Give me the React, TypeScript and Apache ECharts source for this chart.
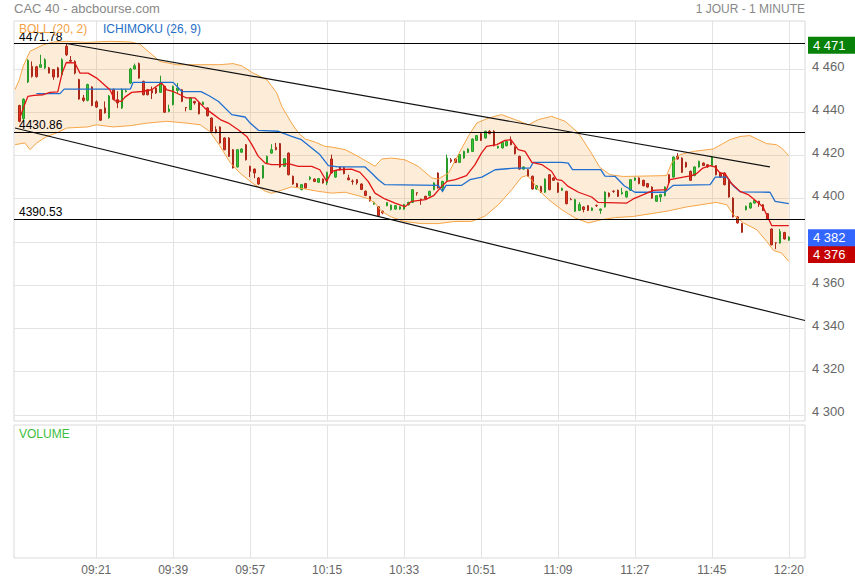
import React, { useEffect, useRef } from "react";
import * as echarts from "echarts";

// ---- axis ticks ----
const tickIdx = [18, 36, 54, 72, 90, 108, 126, 144, 162, 180];
const tickLabels = ["09:21", "09:39", "09:57", "10:15", "10:33", "10:51", "11:09", "11:27", "11:45", "12:20"];
const yTicks = [4300, 4320, 4340, 4360, 4380, 4400, 4420, 4440, 4460];

// ---- 1-minute candles: [open, close, low, high] ----
const candles: number[][] = [
  [4443.1, 4435.8, 4435.3, 4443.5], [4437, 4446, 4436, 4446.5], [4454, 4464, 4453.5, 4464.5], [4461.2, 4456.6, 4456, 4463.5],
  [4461, 4456.5, 4456, 4461.5], [4460.8, 4462, 4460.5, 4466.6], [4460.5, 4464.3, 4460, 4465], [4460.5, 4458.1, 4458, 4461],
  [4459.7, 4456.3, 4455, 4460], [4460.5, 4456.3, 4456, 4461], [4457.4, 4464.3, 4457, 4465], [4470.5, 4466.6, 4466, 4471.78],
  [4464, 4463.6, 4463, 4466], [4463.5, 4458.1, 4457.5, 4464], [4455.1, 4446.1, 4445.8, 4455.5], [4446.6, 4445.5, 4444.8, 4448],
  [4445.5, 4452.8, 4445, 4453.2], [4451.7, 4443.1, 4442.8, 4452], [4444.8, 4442.4, 4442, 4445.5], [4441.2, 4436.3, 4436, 4441.5],
  [4442, 4439.7, 4439.4, 4445], [4437.4, 4447.5, 4437, 4448], [4450.4, 4446, 4445.5, 4451], [4445.8, 4444.3, 4441.9, 4449.7],
  [4442, 4450.4, 4441.5, 4451], [4449.5, 4449.9, 4449.2, 4450.8], [4453.5, 4460, 4453, 4460.5], [4460, 4461.5, 4459.8, 4462.5],
  [4462.5, 4455.8, 4455.5, 4463], [4454.3, 4448.1, 4447.8, 4454.6], [4450.4, 4448.1, 4447.8, 4450.8], [4450, 4448.9, 4446.1, 4451.9],
  [4451.2, 4448.9, 4448.5, 4451.6], [4449.2, 4453.5, 4449, 4456.9], [4452, 4440, 4439.7, 4452.3], [4440.4, 4441.5, 4440, 4443.5],
  [4443.5, 4452, 4443.2, 4452.3], [4450.1, 4451.2, 4448.9, 4453.5], [4450.4, 4445, 4444.7, 4450.7], [4442.2, 4442, 4440.4, 4442.3],
  [4441.2, 4446.6, 4441, 4447], [4445, 4444.3, 4443.5, 4445.3], [4444.3, 4439.3, 4439, 4444.6], [4443.6, 4444.6, 4443.3, 4445],
  [4442, 4438.4, 4438, 4442.3], [4437.3, 4431.2, 4431, 4437.6], [4432, 4430.7, 4430.2, 4433.5], [4433.2, 4425.8, 4425.5, 4433.5],
  [4428.1, 4422.7, 4422.4, 4428.4], [4428.1, 4419.6, 4419.3, 4428.4], [4422.7, 4414.2, 4414, 4423], [4414.7, 4422.7, 4414.4, 4423],
  [4421.5, 4423, 4421.2, 4423.3], [4425, 4418, 4417.7, 4425.3], [4415, 4412.7, 4410, 4415.3], [4413.7, 4411.9, 4409.5, 4414],
  [4409.6, 4406.8, 4406.5, 4410], [4409.6, 4415.3, 4409.3, 4415.6], [4416.2, 4419.6, 4416, 4420], [4421.1, 4422.7, 4420.8, 4425.2],
  [4423.8, 4422.7, 4422.4, 4425.8], [4425.5, 4414.7, 4414.4, 4425.8], [4415, 4418.5, 4414.7, 4418.8], [4421.1, 4411.1, 4410.8, 4421.4],
  [4410.4, 4406.8, 4406.5, 4410.7], [4407, 4405.4, 4405.1, 4407.3], [4404.2, 4406.5, 4403.9, 4406.8], [4407, 4405, 4404.7, 4407.3],
  [4409.1, 4409.9, 4408.5, 4410.4], [4409.1, 4408, 4407.7, 4409.4], [4407.6, 4409.3, 4407.3, 4409.6], [4409.1, 4407.3, 4407, 4409.4],
  [4407.3, 4412.2, 4406.3, 4412.5], [4418.4, 4411.9, 4411.6, 4420.4], [4410, 4413, 4409.7, 4413.3], [4414.7, 4413.4, 4413.1, 4415],
  [4414.5, 4411.6, 4411.3, 4414.8], [4409.6, 4408.8, 4408.5, 4411.1], [4408.2, 4408, 4406.5, 4408.9], [4408.8, 4407.3, 4406.5, 4409.1],
  [4406.8, 4404.3, 4404, 4407.1], [4403.5, 4401.5, 4401.2, 4403.8], [4401, 4399, 4398.7, 4401.3], [4397.5, 4398.3, 4397.2, 4398.6],
  [4396.3, 4392.2, 4391.9, 4396.6], [4394.2, 4393.4, 4392.8, 4394.5], [4396.8, 4398.2, 4396.5, 4398.5], [4395, 4397, 4394.5, 4397.3],
  [4395.2, 4396.8, 4394.9, 4397.1], [4395.2, 4396.3, 4394.9, 4396.6], [4395.2, 4397.3, 4394.9, 4397.6], [4397.2, 4398.3, 4396.9, 4398.6],
  [4398.3, 4404.2, 4398, 4404.5], [4402.8, 4402.6, 4401.4, 4402.9], [4399.8, 4399.6, 4397.2, 4400], [4401.1, 4400, 4399.7, 4401.4],
  [4401.4, 4403.4, 4401.1, 4403.7], [4404.2, 4407.3, 4403.9, 4407.6], [4411.9, 4405, 4404.7, 4412.2], [4405, 4408, 4403, 4408.3],
  [4408.5, 4418.8, 4408.2, 4420.4], [4418, 4417.3, 4416.5, 4418.8], [4418.4, 4416.8, 4416.5, 4418.7], [4416.8, 4420.4, 4416.5, 4420.7],
  [4418.8, 4421.9, 4418.5, 4422.2], [4421.4, 4423, 4421.1, 4423.3], [4421.9, 4427.6, 4421.6, 4427.9], [4427, 4429.2, 4426.7, 4429.5],
  [4430.1, 4427, 4426.7, 4430.4], [4428.1, 4431.2, 4427.8, 4431.5], [4431.2, 4430.1, 4429.8, 4431.7], [4431.2, 4424.5, 4424.2, 4431.7],
  [4423.5, 4424.2, 4423.2, 4424.5], [4423.5, 4426, 4423.2, 4426.3], [4424.5, 4426.5, 4424.2, 4426.8], [4426.5, 4425, 4424.7, 4428.8],
  [4423.9, 4420.8, 4420.5, 4424.2], [4419.6, 4413.7, 4413.4, 4419.9], [4413.7, 4414.7, 4413.4, 4415], [4413.4, 4410.4, 4410.1, 4413.7],
  [4410.4, 4404.5, 4404.2, 4410.7], [4404.5, 4406, 4404.2, 4406.3], [4405.7, 4403, 4402.7, 4406], [4403, 4409.1, 4402.7, 4409.4],
  [4411.1, 4404.2, 4403.9, 4411.4], [4409.6, 4408.5, 4408.2, 4410.1], [4407.3, 4403, 4402.7, 4407.6], [4403.9, 4404.8, 4403.6, 4405.1],
  [4403.4, 4397.7, 4397.4, 4403.7], [4399.7, 4399.6, 4399.3, 4400.4], [4394.2, 4399.6, 4393.9, 4399.9], [4394.6, 4397.3, 4394.3, 4398.4],
  [4396.2, 4395, 4393.7, 4396.5], [4396.8, 4394.6, 4394.3, 4397.1], [4394.6, 4395.7, 4394.3, 4396], [4396.9, 4396.8, 4396.2, 4397.3],
  [4394.6, 4395.2, 4393, 4395.5], [4396.2, 4403.1, 4395.9, 4403.4], [4402.6, 4401.1, 4400.6, 4402.9], [4403.5, 4403.4, 4402.7, 4403.9],
  [4403.9, 4401.1, 4400.8, 4404.2], [4402.3, 4402.9, 4401.9, 4405], [4400.8, 4403.4, 4400.5, 4403.7], [4403.9, 4408.8, 4403.6, 4409.1],
  [4408.5, 4409.6, 4408.2, 4409.9], [4409.6, 4407, 4406.7, 4409.9], [4408.5, 4406, 4405.7, 4408.8], [4407, 4405.4, 4405.1, 4407.3],
  [4405.4, 4400.3, 4400, 4405.7], [4398.8, 4401.4, 4398.5, 4401.7], [4400.8, 4401.9, 4398.5, 4402.2], [4401.4, 4405.4, 4401.1, 4405.7],
  [4411.1, 4407.6, 4407.3, 4411.4], [4410, 4419.3, 4409.7, 4419.6], [4419.6, 4418.4, 4418.1, 4421.1], [4418.8, 4412.2, 4411.9, 4419.1],
  [4416.8, 4414.7, 4414.4, 4417.1], [4412.7, 4408.5, 4408.2, 4413], [4410.7, 4414.7, 4410.4, 4415], [4414.7, 4417.3, 4414.4, 4417.6],
  [4416.5, 4415.4, 4415.1, 4416.8], [4415.7, 4414.7, 4414.4, 4416], [4415.3, 4419.3, 4415, 4419.6], [4415.3, 4411.1, 4410.8, 4415.6],
  [4411.9, 4410, 4409.7, 4412.2], [4411.9, 4406.5, 4406.2, 4412.2], [4408.8, 4400.8, 4400.5, 4409.1], [4400.3, 4391.6, 4391.3, 4400.6],
  [4391.6, 4388.8, 4388.5, 4391.9], [4388.5, 4384.5, 4384.2, 4388.8], [4394.9, 4396.5, 4394.6, 4396.8], [4395.7, 4398, 4395.4, 4398.3],
  [4398, 4399.2, 4397.7, 4399.5], [4398.8, 4397.7, 4396.2, 4399.1], [4397.2, 4394.6, 4394.3, 4397.5], [4393.1, 4390.6, 4390.3, 4393.4],
  [4386, 4378.7, 4378.4, 4386.3], [4379.6, 4379.5, 4376.7, 4379.9], [4379.5, 4384.9, 4379.2, 4386], [4384.4, 4381.4, 4381.1, 4384.7],
  [4380.8, 4382.3, 4380.5, 4382.6],
];

// ---- Ichimoku lines: [candle index, value] ----
const tenkan: number[][] = [
  [0, 4436.6], [1.1, 4442.8], [2, 4447.3], [3.4, 4447.8], [5.6, 4448.1], [7.2, 4449.2], [9, 4449.4], [10, 4458], [11, 4463],
  [13, 4462.8], [14.2, 4458.1], [16.1, 4458.1], [18.1, 4455.8], [21.2, 4450.4], [22.4, 4445.3], [23.9, 4445], [24.7, 4447],
  [26.3, 4449.2], [28.6, 4449.6], [31, 4450.4], [32.1, 4452], [33.3, 4453.5], [34.5, 4450.4], [36, 4449.6], [37.6, 4448.1],
  [39.1, 4446.6], [41.1, 4446.6], [43.4, 4441.9], [45, 4439.6], [47, 4436.6], [48.9, 4435], [51.2, 4431.9], [53.2, 4428.8],
  [54.4, 4425], [55.9, 4419.6], [57.5, 4416.5], [59, 4415.8], [61.4, 4415.8], [62.9, 4416.2], [65.3, 4415], [68.4, 4415],
  [70.3, 4413.4], [71.9, 4408], [73.1, 4412.7], [74.6, 4413.4], [77.7, 4413.7], [79.7, 4412.2], [81.6, 4408], [83.2, 4402.6],
  [85.5, 4399.9], [87.9, 4398], [90.2, 4396.3], [91.8, 4398.8], [95, 4399.6], [96.9, 4401.4], [98.8, 4405.7], [100, 4408],
  [102, 4408.8], [104.6, 4410.7], [106.6, 4415.8], [108.1, 4421.1], [109.3, 4424.2], [111.7, 4425], [113.6, 4427], [115, 4427.3],
  [116.7, 4422.7], [118.3, 4421.9], [119.9, 4416.8], [122.2, 4415.8], [124.5, 4412.7], [125.7, 4408.8], [126.9, 4408.5],
  [128.4, 4405.7], [130.8, 4403], [133.9, 4400.8], [135.4, 4398.3], [142.1, 4398], [143.6, 4399.9], [146, 4401.9], [148.3, 4403.9],
  [151.4, 4404.2], [152.2, 4408.8], [155.3, 4410], [157.3, 4410.7], [158.4, 4411.6], [159.9, 4414.2], [161.6, 4415.3],
  [162.7, 4414.7], [163.9, 4411.9], [165.1, 4411.6], [166.6, 4407], [168.6, 4403.4], [170.5, 4401.9], [172.4, 4398.8],
  [174, 4396.2], [174.8, 4392.6], [176, 4387.6], [180, 4387.6],
];
const kijun: number[][] = [
  [4, 4448.6], [9.5, 4448.6], [10.5, 4450.7], [26, 4450.7], [26.6, 4453.8], [36, 4453.8], [38, 4449.6], [42.5, 4449.5],
  [44.5, 4447.5], [46.6, 4445], [49.7, 4438.9], [52.8, 4437.8], [54, 4435], [56, 4431.6], [60.6, 4431.2], [63.7, 4428.8],
  [66, 4427.3], [68.4, 4423.5], [70.3, 4420.4], [72.3, 4415.3], [74.6, 4414.7], [80.9, 4414.7], [82.4, 4411.9], [84, 4408.8],
  [85.5, 4406.5], [98, 4406.2], [99, 4403.4], [99.8, 4406.2], [103.5, 4406.2], [105.4, 4408.8], [108.2, 4410], [111.3, 4413.4],
  [116, 4414.2], [119.5, 4414.2], [120.2, 4416.8], [126.9, 4416.8], [128.4, 4416.5], [129.4, 4413.5], [136, 4413.5],
  [137, 4410.5], [139.4, 4410.3], [141.5, 4406], [144, 4403], [151, 4403], [153, 4406.2], [161.6, 4406.5], [162.8, 4410],
  [165.5, 4410], [167, 4406], [168.6, 4403.2], [175.6, 4403], [176.8, 4398.8], [180, 4397.7],
];

// ---- Bollinger (20, 2) envelope: [candle index, value] ----
const bollUpper: number[][] = [
  [-1, 4450.5], [0, 4455], [0.9, 4461.2], [2.5, 4468.2], [5.6, 4471.2], [8, 4472.5], [11.1, 4472.8], [15.8, 4472.3],
  [21.2, 4472.8], [26, 4472.5], [28.2, 4471.5], [30.6, 4467.4], [32.9, 4463.5], [36.8, 4462], [42.3, 4462], [46.9, 4462],
  [50, 4462.5], [52, 4461.5], [54.7, 4458.1], [57.9, 4455], [60.2, 4449], [61.4, 4442.7], [63.7, 4435], [65.3, 4430.4],
  [66.9, 4427.6], [69.2, 4426.2], [71.5, 4424.2], [73.1, 4423.9], [76.2, 4422.7], [78.5, 4420.4], [80.9, 4417.7], [83.2, 4415],
  [84.8, 4418.4], [87.1, 4418.8], [90.2, 4418], [93.3, 4415], [96.5, 4409.6], [98, 4409.1], [100.4, 4411.9], [102.7, 4420.4],
  [105, 4428.8], [107, 4435], [109.7, 4437.3], [112.8, 4438.9], [116, 4436.6], [119.1, 4434.2], [121.4, 4436.6], [124.5, 4438.1],
  [127.7, 4435.8], [130.8, 4430.4], [133.7, 4421.5], [135.8, 4414.5], [138.2, 4411.1], [141.3, 4410.3], [151.4, 4410.7],
  [152.6, 4416.5], [154.5, 4420.4], [157.7, 4421.9], [162.3, 4423], [166.2, 4427.3], [168.6, 4428.8], [170.9, 4429.2],
  [174.8, 4425.5], [177.1, 4425], [178.3, 4423.5], [180, 4419.9],
];
const bollLower: number[][] = [
  [-1, 4425], [1.3, 4425.8], [2.5, 4422.7], [4.1, 4425.8], [6.4, 4428.8], [8.7, 4430.4], [11.1, 4432.7], [16, 4433.2],
  [18, 4434.2], [22, 4433.2], [26, 4433.8], [30, 4435], [34.5, 4435.8], [39, 4435], [42.3, 4434.2], [44.6, 4431], [46.9, 4424.5],
  [49.3, 4416.8], [51.6, 4411.9], [54.7, 4407], [57.5, 4403.5], [59, 4402.5], [61.4, 4404], [63.7, 4405.5], [66.9, 4404.5],
  [70, 4403.4], [73.1, 4402.6], [76.2, 4403], [79.3, 4401.4], [81.6, 4400], [83.2, 4398], [84.8, 4394], [87.1, 4391.5],
  [90, 4389.5], [94, 4388.5], [98, 4388.5], [101.9, 4389.5], [105.8, 4389.5], [108.9, 4391.9], [112.1, 4397.3], [115.2, 4404.2],
  [117.5, 4410], [118.7, 4410.7], [119.8, 4408.8], [121.4, 4404.2], [123.8, 4399.6], [126.9, 4394.9], [130, 4391.1],
  [133.1, 4388.8], [136.2, 4390.3], [139.5, 4391.3], [143.6, 4391.8], [151.4, 4394.2], [156.1, 4396.2], [163, 4398.3],
  [165.5, 4397.2], [167, 4392.6], [169.4, 4388.8], [172.5, 4385.7], [174.8, 4380.3], [176.4, 4376.1], [178.3, 4374.9], [180, 4371],
];

// ---- drawn trend lines and horizontal levels ----
const trendHigh: number[][] = [[11, 4471.78], [175.6, 4414.7]];
const trendLow: number[][] = [[-1, 4432.7], [183.8, 4343.7]];
const levels = [4471.78, 4430.86, 4390.53];
const tagHigh = 4471;
const tagLast = 4382;
const tagRed = 4376;

const X_MIN = -1.24;
const X_MAX = 183.79;
const Y_MIN = 4297.2;
const Y_MAX = 4482.2;

const FONT = '"Liberation Sans", Arial, sans-serif';
const fmtThousands = (v: number) => {
  const s = String(Math.round(v));
  return s.slice(0, s.length - 3) + " " + s.slice(-3);
};

export default function App() {
  const ref = useRef<HTMLDivElement>(null);
  useEffect(() => {
    if (!ref.current) return;
    const chart = echarts.init(ref.current, undefined, { renderer: "svg" });
    const candleData = candles.map((c, i) => [i, c[0], c[1], c[2], c[3]]);
    const gridLine = { show: true, lineStyle: { color: "#e3e3e3", width: 1 } };
    const hidden = { color: "rgba(0,0,0,0)", width: 0 };
    const tag = (v: number, bg: string, offsetY: number) => ({
      yAxis: v,
      lineStyle: hidden,
      label: {
        show: true, position: "end", distance: 3, formatter: fmtThousands(v), color: "#fff", fontSize: 13,
        backgroundColor: bg, padding: [2, 6, 2, 5], fontFamily: FONT, width: 36, align: "left",
        offset: [0, offsetY],
      },
    });

    const option: any = {
      animation: false,
      backgroundColor: "#fff",
      textStyle: { fontFamily: FONT },
      title: [
        { text: "CAC 40 - abcbourse.com", left: 14, top: 2, padding: 0, textStyle: { color: "#888", fontSize: 13, fontWeight: "normal", fontFamily: FONT } },
        { text: "1 JOUR - 1 MINUTE", right: 50, top: 3, padding: 0, textStyle: { color: "#888", fontSize: 12, fontWeight: "normal", fontFamily: FONT } },
        { text: "BOLL (20, 2)", left: 19, top: 23, padding: 0, textStyle: { color: "#f5a142", fontSize: 12, fontWeight: "normal", fontFamily: FONT } },
        { text: "ICHIMOKU (26, 9)", left: 103, top: 23, padding: 0, textStyle: { color: "#1f6fc8", fontSize: 12, fontWeight: "normal", fontFamily: FONT } },
        { text: "VOLUME", left: 19, top: 428, padding: 0, textStyle: { color: "#3cbd3c", fontSize: 12, fontWeight: "normal", fontFamily: FONT } },
      ],
      grid: [
        { left: 14, right: 50, top: 21, height: 400, show: true, borderColor: "#d9d9d9", borderWidth: 1, backgroundColor: "transparent" },
        { left: 14, right: 50, top: 425, height: 133, show: true, borderColor: "#d9d9d9", borderWidth: 1, backgroundColor: "transparent" },
      ],
      xAxis: [
        {
          type: "value", gridIndex: 0, min: X_MIN, max: X_MAX,
          axisLine: { show: false }, axisTick: { show: false, customValues: tickIdx },
          axisLabel: { show: false, customValues: tickIdx }, splitLine: gridLine,
        },
        {
          type: "value", gridIndex: 1, min: X_MIN, max: X_MAX,
          axisLine: { show: false }, axisTick: { show: false, customValues: tickIdx },
          axisLabel: {
            show: true, customValues: tickIdx, color: "#666", fontSize: 12, margin: 6, fontFamily: FONT,
            formatter: (v: number) => { const k = tickIdx.indexOf(Math.round(v)); return k >= 0 ? tickLabels[k] : ""; },
          },
          splitLine: gridLine,
        },
      ],
      yAxis: [
        {
          type: "value", gridIndex: 0, position: "right", min: Y_MIN, max: Y_MAX,
          axisLine: { show: false }, axisTick: { show: false, customValues: yTicks },
          axisLabel: {
            customValues: yTicks, color: "#666", fontSize: 13, margin: 7, fontFamily: FONT, formatter: fmtThousands,
            verticalAlign: "bottom", lineHeight: 6,
          },
          splitLine: gridLine,
        },
        {
          type: "value", gridIndex: 1, position: "right", min: 0, max: 1,
          axisLine: { show: false }, axisTick: { show: false }, axisLabel: { show: false }, splitLine: { show: false },
        },
      ],
      series: [
        {
          name: "bollFill", type: "custom", xAxisIndex: 0, yAxisIndex: 0, silent: true, clip: true,
          data: [[0, bollUpper[0][1]]],
          renderItem: (_params: any, api: any) => {
            const pts = bollUpper.map((p) => api.coord(p)).concat(bollLower.slice().reverse().map((p) => api.coord(p)));
            return { type: "polygon", shape: { points: pts }, style: { fill: "rgba(245,160,60,0.2)", stroke: "none" } };
          },
        },
        { name: "bollUpper", type: "line", xAxisIndex: 0, yAxisIndex: 0, data: bollUpper, showSymbol: false, silent: true, lineStyle: { color: "#f6a547", width: 1 } },
        { name: "bollLower", type: "line", xAxisIndex: 0, yAxisIndex: 0, data: bollLower, showSymbol: false, silent: true, lineStyle: { color: "#f6a547", width: 1 } },
        {
          name: "CAC 40", type: "candlestick", xAxisIndex: 0, yAxisIndex: 0, data: candleData,
          encode: { x: 0, y: [1, 2, 3, 4] }, barWidth: 2,
          itemStyle: { color: "#36c936", color0: "#e2301c", borderColor: "#2a9a2a", borderColor0: "#a8281a", borderWidth: 1 },
          markLine: {
            symbol: ["none", "none"], silent: true,
            data: [
              ...levels.map((v) => ({
                yAxis: v,
                lineStyle: { color: "#000", width: 1, type: "solid" },
                label: { show: true, position: "insideStartTop", formatter: v.toFixed(2), color: "#000", fontSize: 12, distance: [5, 1], fontFamily: FONT },
              })),
              tag(tagRed, "#c40000", 4),
              tag(tagLast, "#3366ff", 0),
              tag(tagHigh, "#078107", 0),
            ],
          },
        },
        { name: "kijun", type: "line", xAxisIndex: 0, yAxisIndex: 0, data: kijun, showSymbol: false, silent: true, lineStyle: { color: "#1f6fd0", width: 1.3 } },
        { name: "tenkan", type: "line", xAxisIndex: 0, yAxisIndex: 0, data: tenkan, showSymbol: false, silent: true, lineStyle: { color: "#e01616", width: 1.3 } },
        { name: "trendHigh", type: "line", xAxisIndex: 0, yAxisIndex: 0, data: trendHigh, showSymbol: false, silent: true, lineStyle: { color: "#111", width: 1.2 } },
        { name: "trendLow", type: "line", xAxisIndex: 0, yAxisIndex: 0, data: trendLow, showSymbol: false, silent: true, lineStyle: { color: "#111", width: 1.2 } },
      ],
    };
    chart.setOption(option);
    return () => chart.dispose();
  }, []);
  return <div ref={ref} style={{ position: "fixed", left: 0, top: 0, width: 855, height: 580, background: "#fff" }} />;
}
